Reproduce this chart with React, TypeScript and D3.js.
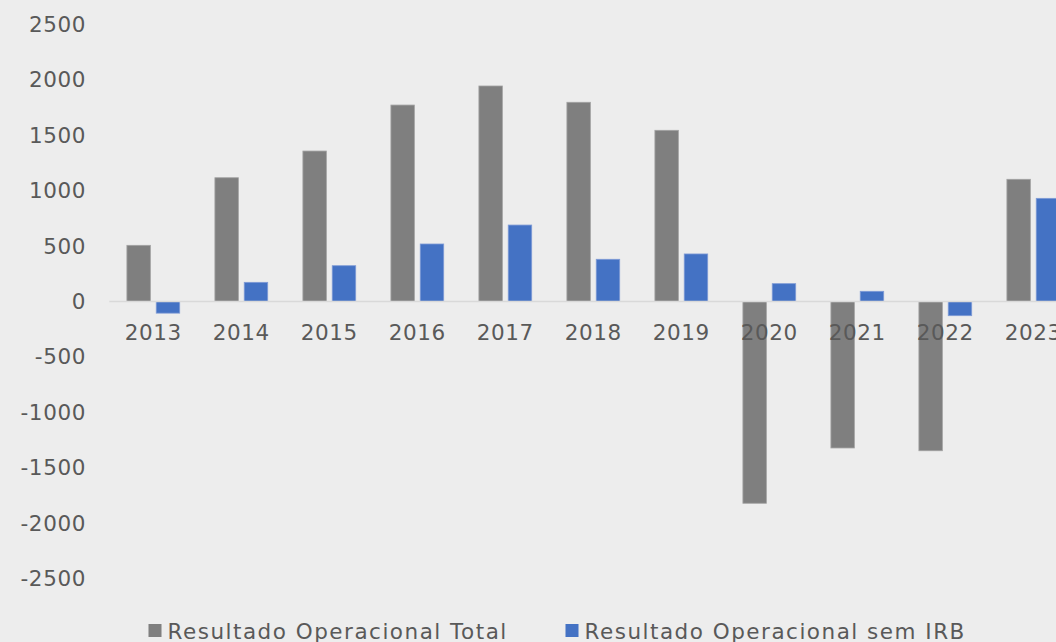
import * as d3 from "d3";

const years = ["2013", "2014", "2015", "2016", "2017", "2018", "2019", "2020", "2021", "2022", "2023"];
const totalValues = [507, 1117, 1358, 1773, 1945, 1798, 1545, -1821, -1322, -1347, 1103];
const semIrbValues = [-105, 173, 323, 519, 690, 381, 429, 161, 92, -128, 931];
const seriesNames = ["Resultado Operacional Total", "Resultado Operacional sem IRB"];
const seriesColors = ["#7f7f7f", "#4472c4"];
const seriesStrokes = ["#a3a3a3", "#7f9bd6"];
const yTicks = [-2500, -2000, -1500, -1000, -500, 0, 500, 1000, 1500, 2000, 2500];

const width = 1056;
const height = 642;
const font = "'DejaVu Sans', 'Open Sans', sans-serif";
const textColor = "#595959";

export default function App() {
  const x0 = d3
    .scaleBand()
    .domain(years)
    .range([109.3, 1077.3])
    .paddingInner(0.4)
    .paddingOuter(0.2);

  const x1 = d3
    .scaleBand()
    .domain(seriesNames)
    .range([0, x0.bandwidth()])
    .paddingInner(0.2);

  const y = d3.scaleLinear().domain([-2500, 2500]).range([578.5, 24.5]);

  const series = [totalValues, semIrbValues];

  return (
    <svg
      width={width}
      height={height}
      style={{ position: "absolute", left: 0, top: 0, display: "block" }}
    >
      <rect width={width} height={height} fill="#ededed" />

      {yTicks.map((t) => (
        <text
          key={t}
          x={86}
          y={y(t)}
          textAnchor="end"
          dominantBaseline="central"
          fill={textColor}
          fontFamily={font}
          fontSize={21.5}
          letterSpacing={0.6}
        >
          {t}
        </text>
      ))}

      {years.map((yr, i) => (
        <g key={yr} transform={`translate(${x0(yr)},0)`}>
          {series.map((vals, s) => {
            const v = vals[i];
            const top = y(Math.max(0, v));
            const h = Math.abs(y(v) - y(0));
            return (
              <rect
                key={s}
                x={x1(seriesNames[s])}
                y={top}
                width={x1.bandwidth()}
                height={h}
                fill={seriesColors[s]}
                stroke={seriesStrokes[s]}
                strokeWidth={0.8}
              />
            );
          })}
        </g>
      ))}

      <line
        x1={x0.range()[0]}
        x2={width}
        y1={y(0)}
        y2={y(0)}
        stroke="#d9d9d9"
        strokeWidth={1.5}
      />

      {years.map((yr) => (
        <text
          key={yr}
          x={x0(yr) + x0.bandwidth() / 2}
          y={332}
          textAnchor="middle"
          dominantBaseline="central"
          fill={textColor}
          fontFamily={font}
          fontSize={21.5}
          letterSpacing={0.6}
        >
          {yr}
        </text>
      ))}

      {seriesNames.map((name, s) => {
        const lx = s === 0 ? 148.5 : 565.5;
        return (
          <g key={name}>
            <rect x={lx} y={624} width={13} height={13} fill={seriesColors[s]} />
            <text
              x={lx + 19}
              y={631}
              dominantBaseline="central"
              fill={textColor}
              fontFamily={font}
              fontSize={21.5}
              letterSpacing={1.5}
            >
              {name}
            </text>
          </g>
        );
      })}
    </svg>
  );
}
